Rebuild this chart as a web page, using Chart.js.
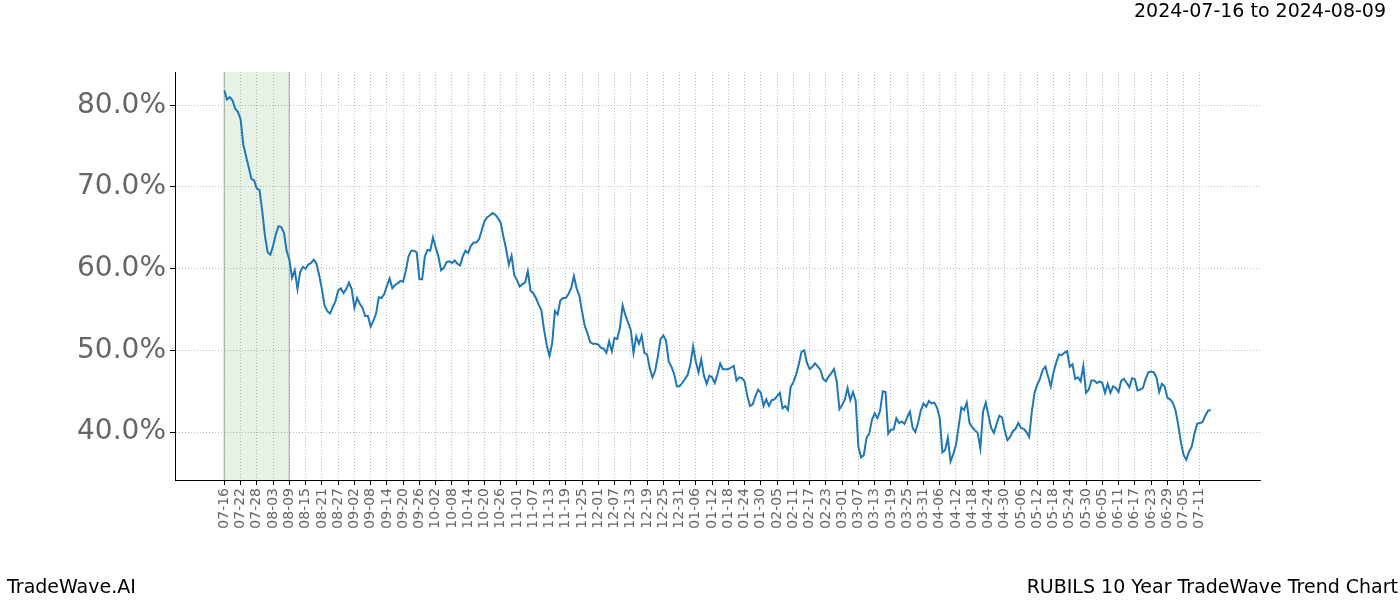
<!DOCTYPE html>
<html>
<head>
<meta charset="utf-8">
<script src="https://cdn.jsdelivr.net/npm/chart.js@4/dist/chart.umd.min.js"></script>
<style>
  html, body { margin: 0; padding: 0; background: #fff; }
  #wrap { width: 1400px; height: 600px; }
</style>
</head>
<body>
<div id="wrap"><canvas id="chart" width="1400" height="600"></canvas></div>
<script>
// one value per calendar day, starting 2024-07-16 (percent)
const trendValues = [
  81.8, 80.7, 81.0, 80.6, 79.6, 79.2, 78.3, 75.2, 73.8, 72.4,
  71.0, 70.8, 69.8, 69.6, 67.0, 64.0, 62.0, 61.7, 62.8, 64.2,
  65.2, 65.1, 64.4, 62.2, 61.1, 58.9, 59.8, 57.5, 59.6, 60.2,
  60.0, 60.5, 60.7, 61.1, 60.6, 59.2, 57.5, 55.5, 54.8, 54.5,
  55.3, 56.0, 57.3, 57.6, 57.0, 57.5, 58.3, 57.5, 55.2, 56.4,
  55.7, 55.2, 54.2, 54.2, 52.9, 53.6, 54.5, 56.5, 56.4, 56.9,
  57.9, 58.8, 57.6, 58.0, 58.2, 58.5, 58.4, 59.8, 61.5, 62.2,
  62.2, 62.0, 58.7, 58.7, 61.5, 62.3, 62.2, 63.8, 62.6, 61.5,
  59.8, 60.1, 60.8, 60.9, 60.7, 61.0, 60.6, 60.4, 61.5, 62.2,
  61.9, 62.8, 63.2, 63.2, 63.6, 64.7, 65.8, 66.3, 66.5, 66.8,
  66.6, 66.2, 65.6, 63.9, 62.4, 60.5, 61.6, 59.2, 58.6, 57.8,
  58.1, 58.3, 59.7, 57.3, 57.0, 56.4, 55.6, 54.9, 52.5, 50.6,
  49.3, 50.9, 54.8, 54.4, 56.1, 56.4, 56.4, 56.9, 57.6, 59.1,
  57.6, 56.7, 54.8, 53.0, 52.1, 51.0, 50.8, 50.8, 50.7, 50.3,
  50.2, 49.7, 51.1, 49.9, 51.5, 51.4, 52.8, 55.5, 54.3, 53.4,
  52.5, 49.7, 51.7, 50.8, 51.8, 49.7, 49.5, 47.8, 46.7, 47.5,
  49.3, 51.4, 51.8, 51.2, 48.6, 48.0, 47.1, 45.6, 45.6, 46.0,
  46.5, 47.0, 48.3, 50.5, 48.6, 47.3, 48.9, 46.9, 45.9, 46.9,
  46.7, 46.0, 47.1, 48.4, 47.7, 47.7, 47.7, 47.9, 48.1, 46.3,
  46.7, 46.6, 46.2, 44.4, 43.2, 43.4, 44.4, 45.2, 44.8, 43.2,
  44.0, 43.2, 43.9, 44.0, 44.4, 44.8, 42.9, 43.2, 42.7, 45.5,
  46.1, 47.0, 48.3, 49.8, 50.0, 48.5, 47.7, 48.0, 48.4, 48.0,
  47.6, 46.5, 46.2, 46.8, 47.2, 47.7, 46.2, 42.8, 43.3, 44.0,
  45.4, 43.9, 44.9, 43.8, 38.2, 36.9, 37.2, 39.3, 39.8, 41.5,
  42.3, 41.7, 42.6, 45.0, 44.9, 39.8, 40.3, 40.3, 41.7, 41.1,
  41.3, 41.0, 41.8, 42.5, 40.5, 40.0, 41.1, 42.6, 43.5, 43.1,
  43.8, 43.5, 43.6, 43.0, 41.7, 37.5, 37.8, 39.3, 36.4, 37.3,
  38.4, 40.7, 43.0, 42.7, 43.6, 41.1, 40.6, 40.2, 39.9, 38.0,
  42.5, 43.6, 42.0, 40.5, 39.9, 41.0, 42.0, 41.8, 40.2, 39.0,
  39.4, 40.1, 40.4, 41.1, 40.5, 40.4, 40.0, 39.4, 42.5, 44.8,
  45.8, 46.5, 47.6, 48.0, 46.8, 45.6, 47.3, 48.5, 49.5, 49.4,
  49.7, 49.9, 48.0, 48.3, 46.5, 46.7, 46.2, 48.1, 44.8, 45.2,
  46.3, 46.3, 46.0, 46.2, 46.0, 44.8, 45.9, 44.8, 45.6, 45.4,
  44.9, 46.3, 46.5, 46.0, 45.5, 46.6, 46.5, 45.1, 45.2, 45.4,
  46.5, 47.3, 47.4, 47.3, 46.7, 44.9, 45.9, 45.6, 44.2, 44.0,
  43.6, 42.7, 40.9, 38.8, 37.2, 36.6, 37.6, 38.2, 39.8, 41.0,
  41.1, 41.2, 42.0, 42.6, 42.7
];

// one label every 6 days
const tickLabels = [
  '07-16', '07-22', '07-28', '08-03', '08-09', '08-15', '08-21', '08-27',
  '09-02', '09-08', '09-14', '09-20', '09-26', '10-02', '10-08', '10-14',
  '10-20', '10-26', '11-01', '11-07', '11-13', '11-19', '11-25', '12-01',
  '12-07', '12-13', '12-19', '12-25', '12-31', '01-06', '01-12', '01-18',
  '01-24', '01-30', '02-05', '02-11', '02-17', '02-23', '03-01', '03-07',
  '03-13', '03-19', '03-25', '03-31', '04-06', '04-12', '04-18', '04-24',
  '04-30', '05-06', '05-12', '05-18', '05-24', '05-30', '06-05', '06-11',
  '06-17', '06-23', '06-29', '07-05', '07-11'
];
const tickStep = 6;

const yTicks = [40, 50, 60, 70, 80];

// highlighted window: 2024-07-16 .. 2024-08-09
const spanStart = 0;
const spanEnd = 24;

const titleText = '2024-07-16 to 2024-08-09';
const footLeft = 'TradeWave.AI';
const footRight = 'RUBILS 10 Year TradeWave Trend Chart';

let chart = null;

function initChart(){
  const points = trendValues.map((v, i) => ({x: i, y: v}));
  const n = trendValues.length - 1;
  const xPad = n * 0.05;
  const yMin = Math.min(...trendValues), yMax = Math.max(...trendValues);
  const yPad = (yMax - yMin) * 0.05;

  const spanPlugin = {
    id: 'span',
    beforeDatasetsDraw(c){
      const {ctx, chartArea, scales} = c;
      const x1 = scales.x.getPixelForValue(spanStart);
      const x2 = scales.x.getPixelForValue(spanEnd);
      ctx.save();
      ctx.fillStyle = 'rgba(0,128,0,0.1)';
      ctx.fillRect(x1, chartArea.top, x2 - x1, chartArea.bottom - chartArea.top);
      ctx.strokeStyle = 'rgba(128,128,128,0.45)';
      ctx.lineWidth = 1.5;
      ctx.beginPath();
      ctx.moveTo(x1, chartArea.top); ctx.lineTo(x1, chartArea.bottom);
      ctx.moveTo(x2, chartArea.top); ctx.lineTo(x2, chartArea.bottom);
      ctx.stroke();
      ctx.restore();
    }
  };

  const textPlugin = {
    id: 'texts',
    afterDraw(c){
      const ctx = c.ctx;
      ctx.save();
      ctx.fillStyle = '#000';
      ctx.font = '19px "DejaVu Sans"';
      ctx.textBaseline = 'middle';
      ctx.textAlign = 'right';
      ctx.fillText(titleText, 1386, 12);
      ctx.fillText(footRight, 1398, 588);
      ctx.textAlign = 'left';
      ctx.fillText(footLeft, 7, 588);
      ctx.restore();
    }
  };

  const ctx = document.getElementById('chart').getContext('2d');
  chart = new Chart(ctx, {
    type: 'line',
    data: {
      datasets: [{
        data: points,
        borderColor: '#1f77b4',
        borderWidth: 2,
        pointRadius: 0,
        tension: 0,
        fill: false
      }]
    },
    options: {
      responsive: false,
      animation: false,
      devicePixelRatio: 1,
      layout: { padding: { top: 72, right: 140, left: 0, bottom: 0 } },
      plugins: {
        legend: { display: false },
        tooltip: { enabled: false },
        title: { display: false }
      },
      scales: {
        x: {
          type: 'linear',
          min: -xPad,
          max: n + xPad,
          afterBuildTicks(scale){
            scale.ticks = tickLabels.map((_, i) => ({value: i * tickStep}));
          },
          afterFit(scale){ scale.height = 120; },
          ticks: {
            autoSkip: false,
            maxRotation: 90,
            minRotation: 90,
            padding: 3,
            color: '#666',
            font: { family: 'DejaVu Sans', size: 14 },
            callback: (v) => tickLabels[Math.round(v / tickStep)]
          },
          grid: {
            color: '#b0b0b0',
            lineWidth: 0.8,
            tickColor: '#000',
            tickLength: 5,
            tickWidth: 1
          },
          border: { display: true, color: '#000', width: 1, dash: [1, 2] }
        },
        y: {
          type: 'linear',
          min: yMin - yPad,
          max: yMax + yPad,
          afterBuildTicks(scale){
            scale.ticks = yTicks.map(v => ({value: v}));
          },
          afterFit(scale){ scale.width = 175; },
          ticks: {
            padding: 4,
            color: '#666',
            font: { family: 'DejaVu Sans', size: 28 },
            callback: (v) => v.toFixed(1) + '%'
          },
          grid: {
            color: '#b0b0b0',
            lineWidth: 0.8,
            tickColor: '#000',
            tickLength: 5,
            tickWidth: 1
          },
          border: { display: true, color: '#000', width: 1, dash: [1, 2] }
        }
      }
    },
    plugins: [spanPlugin, textPlugin]
  });
}

initChart();
</script>
</body>
</html>
